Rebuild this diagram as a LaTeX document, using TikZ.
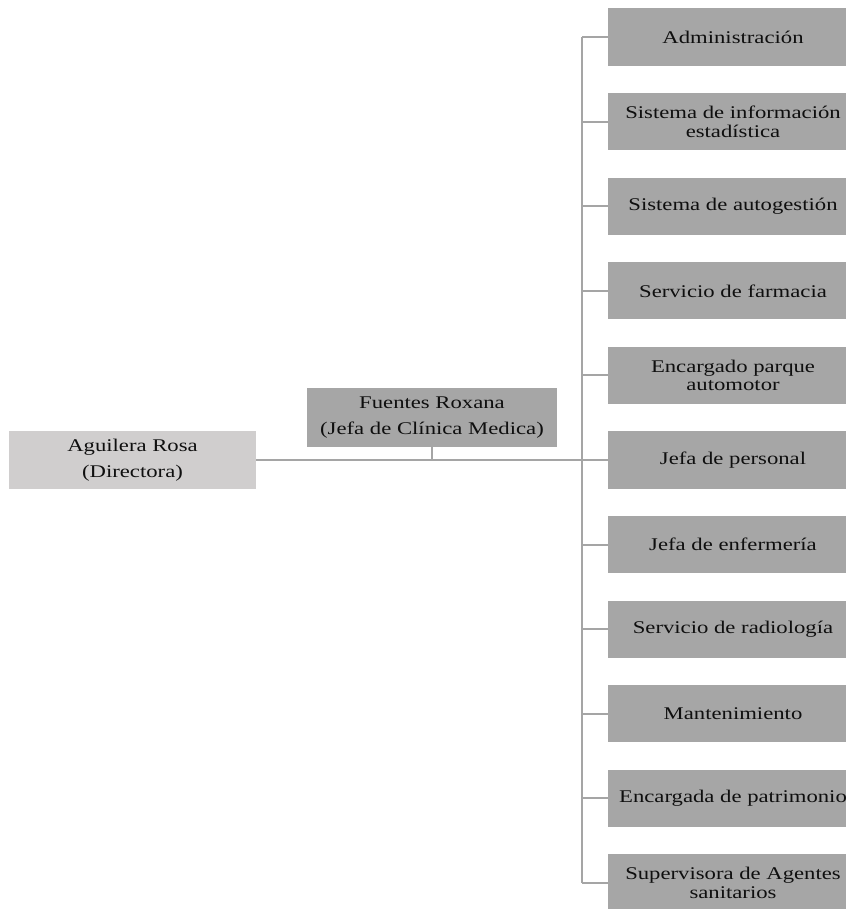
\documentclass[tikz,border=0pt]{standalone}
\usepackage{fontspec}
\setmainfont{Liberation Serif}[FakeStretch=1.27]
\usepackage{tikz}
\usetikzlibrary{positioning}

\definecolor{boxgray}{RGB}{166,166,166}
\definecolor{headgray}{RGB}{208,206,206}
\definecolor{linegray}{RGB}{165,165,165}
\definecolor{inkdark}{RGB}{15,15,15}

\tikzset{
  unitbox/.style={rectangle, fill=boxgray, text=inkdark, align=center,
    minimum width=187.5pt, minimum height=43pt, inner sep=0pt,
    font=\fontsize{13.4}{14}\selectfont},
  headbox/.style={rectangle, fill=headgray, text=inkdark, align=center,
    minimum width=185pt, minimum height=44pt, inner sep=0pt,
    font=\fontsize{13.4}{19.5}\selectfont},
  orgline/.style={draw=linegray, line width=1.5pt},
}

\begin{document}
\begin{tikzpicture}[x=0.75pt,y=0.75pt,yscale=-1,xscale=1]

    \useasboundingbox (0,0) rectangle (845,909);

    %Shape: Rectangle [Directora]
    \node[headbox] (dir) at (132.5,460) {Aguilera Rosa\\(Directora)};
    %Shape: Rectangle [Jefa de Clinica]
    \node[headbox, fill=boxgray, minimum width=187.5pt] (jcm) at (432,417.5) {Fuentes Roxana\\(Jefa de Clínica Medica)};

    %Shapes: Rectangles [areas]
    \foreach \txt [count=\i] in {Administración, {Sistema de información\\estadística},
        Sistema de autogestión, Servicio de farmacia, {Encargado parque\\automotor},
        Jefa de personal, Jefa de enfermería, Servicio de radiología, Mantenimiento,
        Encargada de patrimonio, {Supervisora de Agentes\\sanitarios}} {
      \node[unitbox] (area\i) at (733,{37+(\i-1)*84.6}) {\txt};
      \coordinate (tap\i) at (582,{37+(\i-1)*84.6});
    }

    %Straight Lines [spine]
    \draw[orgline] (tap1) -- (tap11);
    %Straight Lines [ticks]
    \foreach \i in {1,...,11} {
      \draw[orgline] (tap\i) -- (area\i.west);
    }
    %Straight Lines [directora to spine]
    \draw[orgline] (dir.east) -- (tap6);
    %Straight Lines [jefa stem]
    \draw[orgline, line width=1pt] (jcm.south) -- (jcm.south |- dir.east);

\end{tikzpicture}
\end{document}
